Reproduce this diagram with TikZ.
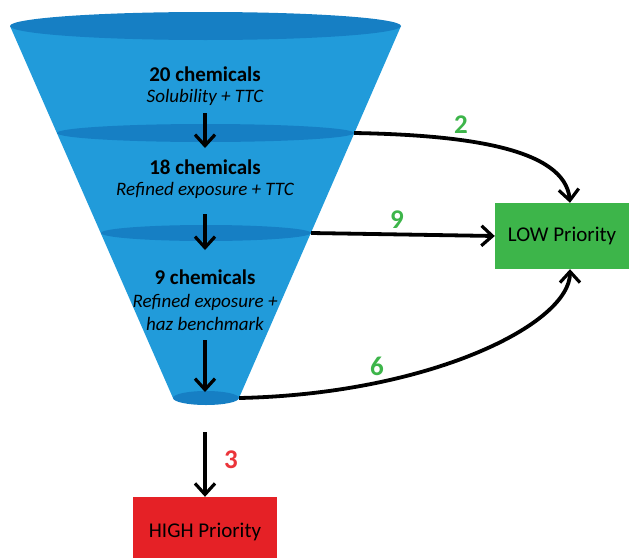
\documentclass[tikz,border=0pt]{standalone}
\usepackage{fontspec}
\setmainfont{Carlito}
\usetikzlibrary{arrows.meta,shapes.geometric}
\definecolor{funnelblue}{RGB}{33,155,218}
\definecolor{rimblue}{RGB}{22,127,196}
\definecolor{lowgreen}{RGB}{61,181,74}
\definecolor{highred}{RGB}{229,33,38}
\definecolor{numred}{RGB}{235,52,58}

\begin{document}
\begin{tikzpicture}[x=1pt,y=-1pt,
    rim/.style={ellipse,fill=rimblue,inner sep=0pt},
    title/.style={font=\fontsize{21}{23}\selectfont\bfseries},
    step text/.style={font=\fontsize{19}{23}\selectfont\itshape,align=center},
    flow/.style={line width=3.8pt,-{Straight Barb[length=11pt,width=20pt,line width=3.2pt]}},
    num/.style={font=\fontsize{27}{28}\selectfont\bfseries},
    prio/.style={minimum width=134pt,minimum height=66pt,inner sep=0pt,font=\fontsize{21}{23}\selectfont}]
     \useasboundingbox (0,0) rectangle (629,557);
     % funnel
     \fill[funnelblue] (10,26) -- (401,26) -- (239,398) -- (173,398) -- cycle;
     \node[rim,minimum width=391pt,minimum height=28pt] (rim0) at (205.5,26) {};
     \node[rim,minimum width=297pt,minimum height=18pt] (rim1) at (205.5,133) {};
     \node[rim,minimum width=210pt,minimum height=16pt] (rim2) at (206,233) {};
     \node[rim,minimum width=66pt,minimum height=14pt] (rim3) at (206,398) {};
     % texts
     \node[title] (c20) at (205,74) {20 chemicals};
     \node[step text] (s20) at (205,97) {Solubility + TTC};
     \node[title] (c18) at (205,167) {18 chemicals};
     \node[step text] (s18) at (205,190) {Refined exposure + TTC};
     \node[title] (c9) at (205,277) {9 chemicals};
     \node[step text] (s9) at (205,312) {Refined exposure +\\haz benchmark};
     % boxes
     \node[prio,fill=lowgreen] (low) at (562,236) {LOW Priority};
     \node[prio,fill=highred,minimum width=144pt,minimum height=70pt] (high) at (205,532) {HIGH Priority};
     % flows
     \coordinate (a1) at (205,113);
     \coordinate (a2) at (205,148);
     \coordinate (b1) at (205,214);
     \coordinate (b2) at (205,250);
     \coordinate (d1) at (205,340);
     \coordinate (d2) at (205,392);
     \coordinate (e1) at (205,432);
     \draw[flow] (a1) -- (a2);
     \draw[flow] (b1) -- (b2);
     \draw[flow] (d1) -- (d2);
     \draw[flow] (e1) -- (high.north);
     \draw[flow] (rim1.east) .. controls +(110,2) and +(-5,-55) .. ([xshift=8pt]low.north);
     \draw[flow] (rim2.east) -- (low.west);
     \draw[flow] (rim3.east) .. controls +(190,-4) and +(0,55) .. ([xshift=8pt]low.south);
     % numbers
     \node[num,text=lowgreen] (n2) at (461,125) {2};
     \node[num,text=lowgreen] (n9) at (397,220) {9};
     \node[num,text=lowgreen] (n6) at (377,366) {6};
     \node[num,text=numred] (n3) at (231,460) {3};
    \end{tikzpicture}
\end{document}
